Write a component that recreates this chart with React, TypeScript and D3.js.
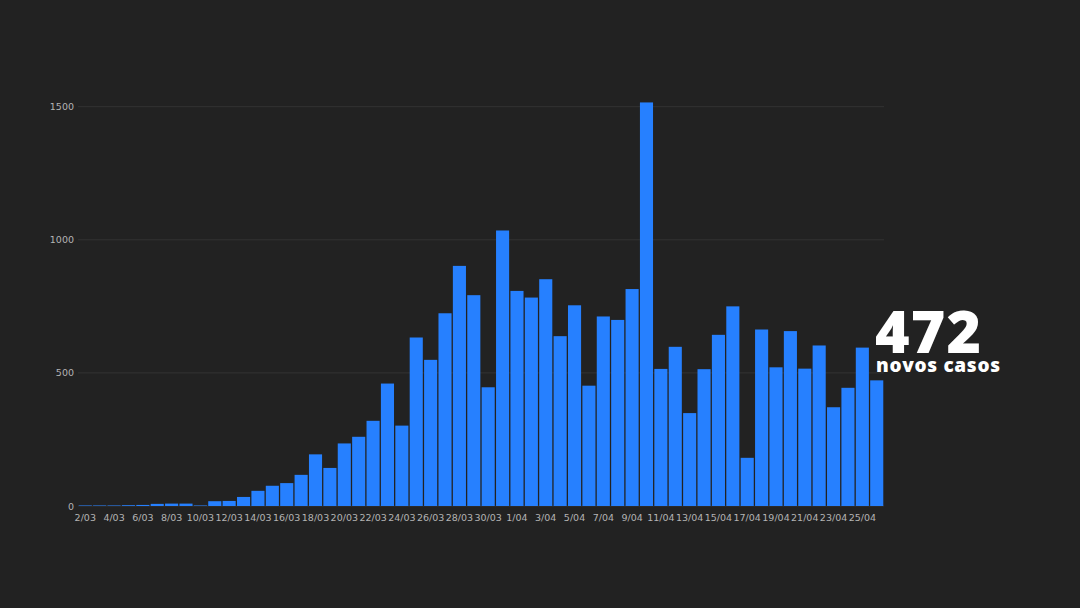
import { useRef, useEffect } from 'react';
import * as d3 from 'd3';

const dates = [
  '2/03', '3/03', '4/03', '5/03', '6/03', '7/03', '8/03', '9/03', '10/03', '11/03',
  '12/03', '13/03', '14/03', '15/03', '16/03', '17/03', '18/03', '19/03', '20/03', '21/03',
  '22/03', '23/03', '24/03', '25/03', '26/03', '27/03', '28/03', '29/03', '30/03', '31/03',
  '1/04', '2/04', '3/04', '4/04', '5/04', '6/04', '7/04', '8/04', '9/04', '10/04',
  '11/04', '12/04', '13/04', '14/04', '15/04', '16/04', '17/04', '18/04', '19/04', '20/04',
  '21/04', '22/04', '23/04', '24/04', '25/04', '26/04',
];

const newCases = [
  2, 2, 2, 3, 4, 8, 9, 9, 2, 18,
  19, 34, 57, 76, 86, 117, 194, 143, 235, 260,
  320, 460, 302, 633, 549, 724, 902, 792, 446, 1035,
  808, 783, 852, 638, 754, 452, 712, 699, 815, 1516,
  515, 598, 349, 514, 643, 750, 181, 663, 521, 657,
  516, 603, 371, 444, 595, 472,
];

const yTicks = [0, 500, 1000, 1500];

export default function App() {
  const svgRef = useRef<SVGSVGElement>(null);

  useEffect(() => {
    if (!svgRef.current) return;
    const svg = d3.select(svgRef.current);
    svg.selectAll('*').remove();

    const width = 1080;
    const height = 608;
    const margin = { right: 196, left: 78 };
    const baseY = 506;

    const x = d3.scaleBand<string>()
      .domain(dates)
      .range([margin.left, width - margin.right])
      .paddingInner(0.09)
      .paddingOuter(0.05);

    const y = d3.scaleLinear().domain([0, 1500]).range([baseY, 106.7]);

    svg.append('rect').attr('width', width).attr('height', height).attr('fill', '#222222');

    // Grid
    svg.append('g')
      .selectAll('line')
      .data(yTicks)
      .join('line')
      .attr('x1', margin.left).attr('x2', width - margin.right)
      .attr('y1', (d) => y(d)).attr('y2', (d) => y(d))
      .attr('stroke', '#333333').attr('stroke-width', 1);

    // Bars
    svg.append('g')
      .selectAll('rect')
      .data(newCases)
      .join('rect')
      .attr('x', (_, i) => x(dates[i])!)
      .attr('width', x.bandwidth())
      .attr('y', (d) => y(d))
      .attr('height', (d) => baseY - y(d))
      .attr('fill', '#2680ff');

    // Y axis labels
    svg.append('g')
      .selectAll('text')
      .data(yTicks)
      .join('text')
      .attr('x', 74).attr('y', (d) => y(d) + 3.5)
      .attr('text-anchor', 'end')
      .attr('fill', '#b4b4b4')
      .style('font-family', 'DejaVu Sans, sans-serif')
      .style('font-size', '9.5px')
      .text((d) => d);

    // X axis labels
    svg.append('g')
      .selectAll('text')
      .data(dates.filter((_, i) => i % 2 === 0))
      .join('text')
      .attr('x', (d) => x(d)! + x.bandwidth() / 2)
      .attr('y', 521)
      .attr('text-anchor', 'middle')
      .attr('fill', '#b4b4b4')
      .style('font-family', 'DejaVu Sans, sans-serif')
      .style('font-size', '9.5px')
      .text((d) => d);

    // Callout for the latest day
    const last = newCases[newCases.length - 1];
    svg.append('text')
      .attr('x', 875).attr('y', 353)
      .attr('fill', '#ffffff')
      .style('font-family', '"Open Sans", sans-serif')
      .style('font-weight', 800)
      .style('font-size', '59px')
      .attr('textLength', 106)
      .text(last);

    svg.append('text')
      .attr('x', 876).attr('y', 372)
      .attr('fill', '#ffffff')
      .style('font-family', '"Open Sans", sans-serif')
      .style('font-weight', 800)
      .style('font-size', '19px')
      .attr('textLength', 124)
      .text('novos casos');
  }, []);

  return (
    <svg
      ref={svgRef}
      width={1080}
      height={608}
      style={{ position: 'absolute', left: 0, top: 0, display: 'block' }}
    />
  );
}
